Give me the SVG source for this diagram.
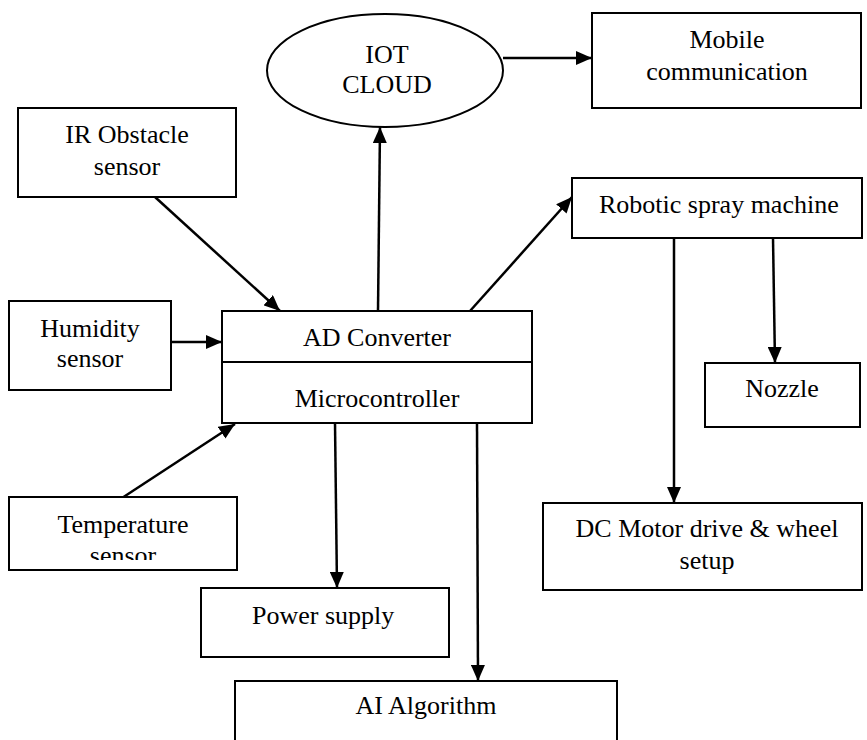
<svg xmlns="http://www.w3.org/2000/svg" width="867" height="740" viewBox="0 0 867 740">
<style>
  .box { fill: #ffffff; stroke: #000000; stroke-width: 2; }
  .t { font-family: "Liberation Serif", "Times New Roman", serif; font-size: 26px; fill: #000000; text-anchor: middle; }
  .ts { font-family: "Liberation Serif", "Times New Roman", serif; font-size: 26px; fill: #000000; text-anchor: start; }
  .c { fill: none; stroke: #000000; stroke-width: 2.5; marker-end: url(#arr); }
</style>
<defs>
  <marker id="arr" markerUnits="userSpaceOnUse" markerWidth="17" markerHeight="14" refX="16" refY="7" orient="auto">
    <path d="M0,0 L16,7 L0,14 z" fill="#000000"/>
  </marker>
  <clipPath id="tempClip"><rect x="9" y="497" width="228" height="63"/></clipPath>
</defs>
<rect width="867" height="740" fill="#ffffff"/>

<g id="connectors">
  <line class="c" x1="155" y1="197" x2="280" y2="311"/>
  <line class="c" x1="171" y1="342" x2="222" y2="342"/>
  <line class="c" x1="122" y1="498" x2="235" y2="424"/>
  <line class="c" x1="378" y1="311" x2="380" y2="127"/>
  <line class="c" x1="503" y1="58" x2="592" y2="58"/>
  <line class="c" x1="470" y1="311" x2="572" y2="197"/>
  <line class="c" x1="773" y1="238" x2="775" y2="363"/>
  <line class="c" x1="674" y1="238" x2="674" y2="503"/>
  <line class="c" x1="335" y1="423" x2="337" y2="588"/>
  <line class="c" x1="477" y1="423" x2="478" y2="681"/>
</g>

<g id="iot-cloud">
  <ellipse class="box" cx="385" cy="70.5" rx="118" ry="56.5"/>
  <text class="t" x="387" y="63">IOT</text>
  <text class="t" x="387" y="93">CLOUD</text>
</g>

<g id="mobile">
  <rect class="box" x="592" y="13" width="269" height="95"/>
  <text class="t" x="727" y="48">Mobile</text>
  <text class="t" x="727" y="80">communication</text>
</g>

<g id="ir-sensor">
  <rect class="box" x="18" y="108" width="218" height="89"/>
  <text class="t" x="127" y="143">IR Obstacle</text>
  <text class="t" x="127" y="175">sensor</text>
</g>

<g id="robotic">
  <rect class="box" x="572" y="178" width="290" height="60"/>
  <text class="ts" x="599" y="213">Robotic spray machine</text>
</g>

<g id="humidity">
  <rect class="box" x="9" y="301" width="162" height="89"/>
  <text class="t" x="90" y="337">Humidity</text>
  <text class="t" x="90" y="367">sensor</text>
</g>

<g id="microcontroller">
  <rect class="box" x="222" y="311" width="310" height="112"/>
  <line x1="222" y1="362" x2="532" y2="362" stroke="#000000" stroke-width="2"/>
  <text class="t" x="377" y="346">AD Converter</text>
  <text class="t" x="377" y="407">Microcontroller</text>
</g>

<g id="nozzle">
  <rect class="box" x="705" y="363" width="155" height="64"/>
  <text class="t" x="782" y="397">Nozzle</text>
</g>

<g id="temperature">
  <rect class="box" x="9" y="497" width="228" height="73"/>
  <text class="t" x="123" y="533">Temperature</text>
  <text class="t" x="123" y="564" clip-path="url(#tempClip)">sensor</text>
</g>

<g id="dc-motor">
  <rect class="box" x="543" y="503" width="319" height="87"/>
  <text class="t" x="707" y="537">DC Motor drive &amp; wheel</text>
  <text class="t" x="707" y="569">setup</text>
</g>

<g id="power">
  <rect class="box" x="201" y="588" width="248" height="69"/>
  <text class="ts" x="252" y="624">Power supply</text>
</g>

<g id="ai">
  <rect class="box" x="235" y="681" width="382" height="70"/>
  <text class="t" x="426" y="714">AI Algorithm</text>
</g>
</svg>
